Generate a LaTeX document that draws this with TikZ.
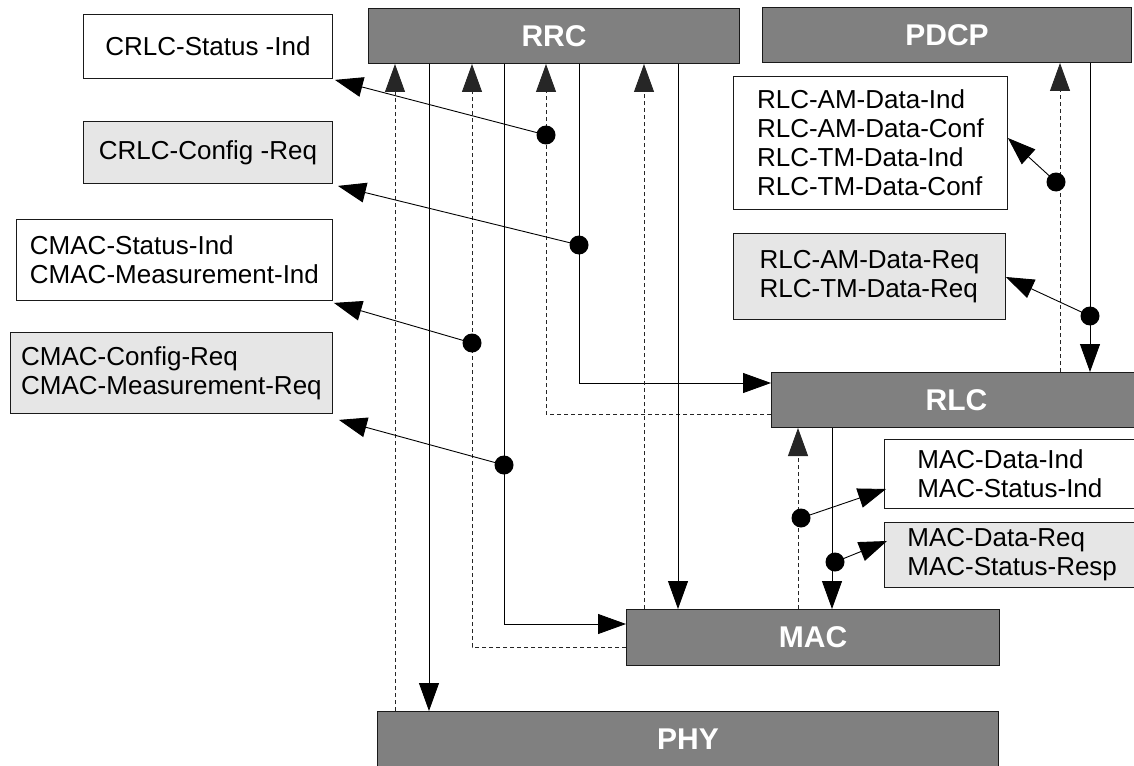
\documentclass[tikz,border=0pt]{standalone}
\usepackage{fontspec}
\setmainfont{Liberation Sans}
\usetikzlibrary{arrows.meta,calc}
\definecolor{layergray}{HTML}{808080}
\definecolor{reqfill}{HTML}{E6E6E6}
\definecolor{edge}{HTML}{1A1A1A}
\begin{document}
\begin{tikzpicture}[x=1pt,y=-1pt,
  layer/.style={draw=edge,line width=1pt,fill=layergray,text=white,
    font=\fontsize{30}{36}\selectfont\bfseries,inner sep=0pt,anchor=north west},
  prim/.style={draw=edge,line width=0.9pt,fill=white,
    font=\fontsize{26}{29}\selectfont,inner sep=0pt,anchor=north west,align=left},
  reqprim/.style={prim,fill=reqfill},
  flow/.style={line width=0.9pt,draw=black,-{Triangle[length=28pt,width=20pt]}},
  flowdash/.style={flow,draw=black!85,dash pattern=on 4pt off 3pt},
  tap/.style={circle,fill=black,minimum size=19pt,inner sep=0pt},
]
\useasboundingbox (0,0) rectangle (1134,765);
\fill[white] (0,0) rectangle (1134,765);
\clip (0,0) rectangle (1134,765);

% protocol layers
\node[layer,minimum width=371pt,minimum height=55pt] (RRC)  at (368,8)   {RRC};
\node[layer,minimum width=369pt,minimum height=55pt] (PDCP) at (762,7)   {PDCP};
\node[layer,minimum width=370pt,minimum height=55pt] (RLC)  at (771,372) {RLC};
\node[layer,minimum width=373pt,minimum height=56pt] (MAC)  at (626,609) {MAC};
\node[layer,minimum width=621pt,minimum height=56pt] (PHY)  at (377,711) {PHY};

% service primitives
\node[prim,minimum width=249pt,minimum height=64pt] (crlcStatus) at (83,14) {CRLC-Status -Ind};
\node[reqprim,minimum width=249pt,minimum height=62pt] (crlcConfig) at (83,121) {CRLC-Config -Req};
\node[prim,minimum width=316pt,minimum height=81pt] (cmacStatus) at (16,219) {CMAC-Status-Ind\\CMAC-Measurement-Ind};
\node[reqprim,minimum width=322pt,minimum height=81pt] (cmacConfig) at (10,332) {CMAC-Config-Req\\CMAC-Measurement-Req};
\node[prim,minimum width=274pt,minimum height=133pt] (rlcInd) at (733,76)
  {RLC-AM-Data-Ind\\RLC-AM-Data-Conf\\RLC-TM-Data-Ind\\RLC-TM-Data-Conf};
\node[reqprim,minimum width=272pt,minimum height=86pt] (rlcReq) at (733,233) {RLC-AM-Data-Req\\RLC-TM-Data-Req};
\node[prim,minimum height=69pt,text width=190pt,inner xsep=33pt] (macInd) at (884,439) {MAC-Data-Ind\\MAC-Status-Ind};
\node[reqprim,minimum height=65pt,text width=210pt,inner xsep=23pt] (macReq) at (884,522) {MAC-Data-Req\\MAC-Status-Resp};

% x positions of the vertical signal lines
\coordinate (x1) at (395,0);
\coordinate (x2) at (429,0);
\coordinate (x3) at (472,0);
\coordinate (x4) at (504,0);
\coordinate (x5) at (546,0);
\coordinate (x6) at (579,0);
\coordinate (x7) at (644,0);
\coordinate (x8) at (678,0);
\coordinate (x9) at (798,0);
\coordinate (x10) at (832,0);
\coordinate (x11) at (1060,0);
\coordinate (x12) at (1090,0);

% entry points on the left sides of MAC and RLC
\coordinate (macW3) at ($(MAC.north west)+(0,38)$);
\coordinate (macW4) at ($(MAC.north west)+(0,15)$);
\coordinate (rlcW5) at ($(RLC.north west)+(0,42)$);
\coordinate (rlcW6) at ($(RLC.north west)+(0,11)$);

% RRC <-> PHY
\draw[flowdash] (x1 |- PHY.north) -- (x1 |- RRC.south);
\draw[flow] (x2 |- RRC.south) -- (x2 |- PHY.north);
% RRC <-> MAC
\draw[flowdash] (macW3) -| (x3 |- RRC.south);
\draw[flow] (x4 |- RRC.south) |- (macW4);
% RRC <-> RLC
\draw[flowdash] (rlcW5) -| (x5 |- RRC.south);
\draw[flow] (x6 |- RRC.south) |- (rlcW6);
% RRC <-> MAC (direct)
\draw[flowdash] (x7 |- MAC.north) -- (x7 |- RRC.south);
\draw[flow] (x8 |- RRC.south) -- (x8 |- MAC.north);
% RLC <-> MAC
\draw[flowdash] (x9 |- MAC.north) -- (x9 |- RLC.south);
\draw[flow] (x10 |- RLC.south) -- (x10 |- MAC.north);
% PDCP <-> RLC
\draw[flowdash] (x11 |- RLC.north) -- (x11 |- PDCP.south);
\draw[flow] (x12 |- PDCP.south) -- (x12 |- RLC.north);

% taps on the signal lines
\node[tap] (tA) at (546,135) {};
\node[tap] (tB) at (579,245) {};
\node[tap] (tC) at (472,343) {};
\node[tap] (tD) at (504,465) {};
\node[tap] (tE) at (1056,182) {};
\node[tap] (tF) at (1090,316) {};
\node[tap] (tG) at (801,518) {};
\node[tap] (tH) at (835,562) {};

% arrows from the taps to their primitives
\draw[flow] (tA.center) -- ($(crlcStatus.south east)+(2,1)$);
\draw[flow] (tB.center) -- ($(crlcConfig.south east)+(5,2)$);
\draw[flow] (tC.center) -- ($(cmacStatus.south east)+(1,2)$);
\draw[flow] (tD.center) -- ($(cmacConfig.south east)+(6,6)$);
\draw[flow] (tE.center) -- ($(rlcInd.north east)+(0,62)$);
\draw[flow] (tF.center) -- ($(rlcReq.north east)+(0,44)$);
\draw[flow] (tG.center) -- ($(macInd.north west)+(2,50)$);
\draw[flow] (tH.center) -- ($(macReq.north west)+(3,19)$);
\end{tikzpicture}
\end{document}
